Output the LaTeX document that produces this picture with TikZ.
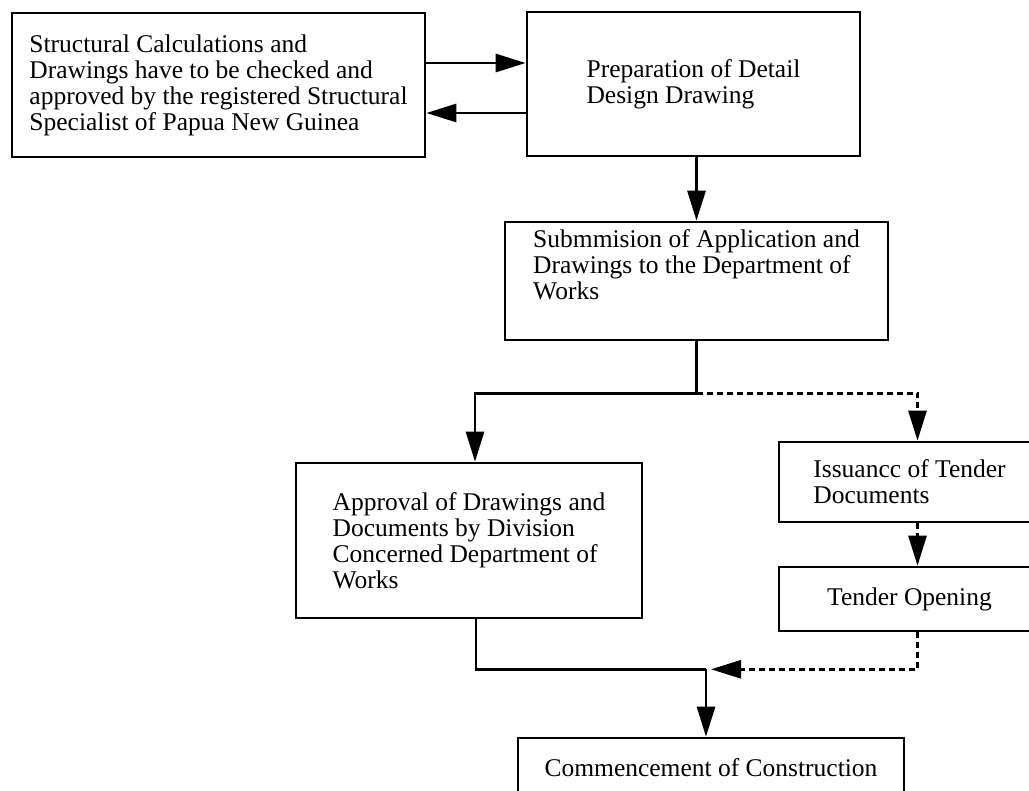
\documentclass[tikz,border=0pt]{standalone}
\usepackage{fontspec}
\setmainfont{Liberation Serif}
\usetikzlibrary{arrows.meta}
\begin{document}
\begin{tikzpicture}[x=1pt,y=-1pt,
  box/.style={draw, line width=2.6pt, inner sep=0pt, align=left, anchor=center,
    font=\fontsize{25.5}{26}\selectfont},
  conn/.style={line width=2.8pt},
  arr/.style={conn, -{Triangle[length=30pt,width=18pt]}},
  darr/.style={arr, dash pattern=on 6pt off 4pt},
  dconn/.style={conn, dash pattern=on 6pt off 4pt}]
\path[use as bounding box, fill=white] (0,0) rectangle (1029,791);
\begin{scope}
\clip (0,0) rectangle (1029,791);
\node[box, minimum width=413pt, minimum height=144pt] (b1) at (218.5,85)
  {Structural Calculations and\\Drawings have to be checked and\\approved by the registered Structural\\Specialist of Papua New Guinea};
\node[box, minimum width=333pt, minimum height=144pt] (prep) at (693.5,84)
  {Preparation of Detail\\Design Drawing};
\node[box, minimum width=383pt, minimum height=118pt, text depth=32pt] (sub) at (696.5,281)
  {Submmision of Application and\\Drawings to the Department of\\Works};
\node[box, minimum width=346pt, minimum height=155pt] (appr) at (469,540.5)
  {Approval of Drawings and\\Documents by Division\\Concerned Department of\\Works};
\node[box, minimum width=261pt, minimum height=80pt] (iss) at (909.5,482)
  {Issuancc of Tender\\Documents};
\node[box, minimum width=261pt, minimum height=64pt] (tend) at (909.5,599)
  {Tender Opening};
\node[box, minimum width=386pt, minimum height=60pt] (comm) at (711,768)
  {Commencement of Construction};

\coordinate (r1) at ([yshift=22pt]b1.east);
\draw[arr] (r1) -- (r1 -| prep.west);
\coordinate (l1) at ([yshift=-29pt]prep.west);
\draw[arr] (l1) -- (l1 -| b1.east);
\draw[arr] (sub.north |- prep.south) -- (sub.north);

\path (sub.south) ++(0,52) coordinate (j1);
\draw[arr] (sub.south) -- (j1) -| ([xshift=6pt]appr.north);
\draw[darr] (j1) -| ([xshift=8pt]iss.north);
\draw[darr] ([xshift=8pt]iss.south) -- ([xshift=8pt]tend.north);

\path (appr.south) ++(0,50) coordinate (tmp);
\coordinate (j2) at (tmp -| comm.north);
\draw[conn] ([xshift=7pt]appr.south) |- ([xshift=-5pt]j2);
\draw[arr] ([xshift=-5pt]j2) -- ([xshift=-5pt]comm.north);
\draw[darr] ([xshift=8pt]tend.south) |- (j2);
\end{scope}
\end{tikzpicture}
\end{document}
